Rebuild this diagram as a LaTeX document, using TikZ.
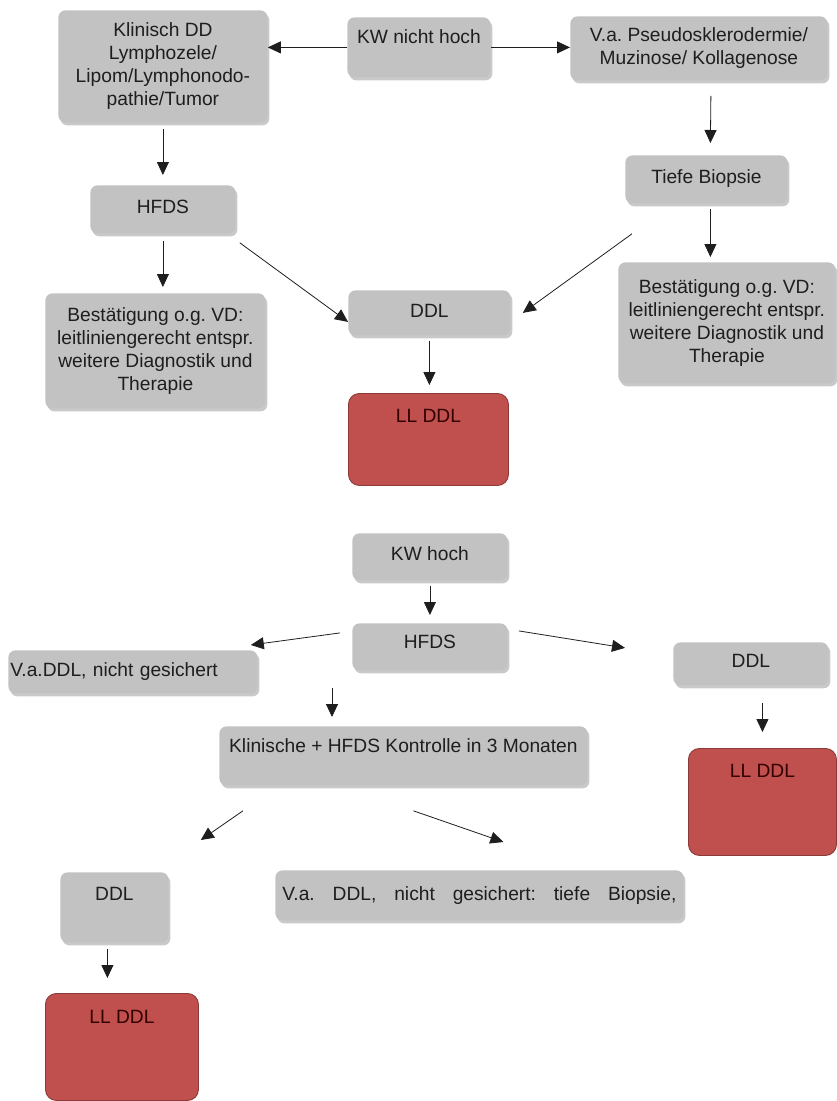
\documentclass[tikz,border=0pt]{standalone}
\usepackage{fontspec}
\setmainfont{Liberation Sans}
\usetikzlibrary{arrows.meta,calc,shadows}
\definecolor{boxgray}{HTML}{C2C2C2}
\definecolor{llred}{HTML}{C0504D}
\definecolor{llline}{HTML}{8C3A37}
\definecolor{ink}{HTML}{1E1E1E}

\begin{document}
\begin{tikzpicture}[x=1pt, y=-1pt,
  font=\fontsize{19.2}{23}\selectfont\frenchspacing, >={Triangle[length=13pt,width=12pt]}, line width=0.8pt, ink,
  box/.style={fill=boxgray, rounded corners=7pt, inner sep=0pt, anchor=north west,
              drop shadow={shadow xshift=2pt, shadow yshift=-3pt, opacity=0.3, fill=black!70}},
  multi/.style={box, align=center},
  ll/.style={draw=llline, fill=llred, line width=0.9pt, rounded corners=11pt, inner sep=0pt,
             anchor=north west, text=black!80!red},
  arr/.style={->, draw=ink}]
\useasboundingbox (0,0) rectangle (837,1101);
% ---------- upper chart: KW nicht hoch
\node[box, minimum width=143pt, text height=26pt, text depth=34pt] (kw1) at (347,17) {KW nicht hoch};
\node[multi, minimum width=209pt, minimum height=112pt] (klin1) at (58,10) {Klinisch DD\\Lymphozele/\\Lipom/Lymphonodo-\\pathie/Tumor};
\node[multi, minimum width=257pt, minimum height=64pt] (pseudo) at (570,16) {V.a. Pseudosklerodermie/\\Muzinose/ Kollagenose};
\node[box, minimum width=162pt, text height=28pt, text depth=20pt] (tiefe) at (625,155) {Tiefe Biopsie};
\node[multi, minimum width=217pt, minimum height=121pt] (best2) at (618,262) {Bestätigung o.g. VD:\\leitliniengerecht entspr.\\weitere Diagnostik und\\Therapie};
\node[box, minimum width=145pt, text height=28pt, text depth=20pt] (hfds1) at (90,185) {HFDS};
\node[multi, minimum width=220pt, minimum height=115pt] (best1) at (45,293) {Bestätigung o.g. VD:\\leitliniengerecht entspr.\\weitere Diagnostik und\\Therapie};
\node[box, minimum width=162pt, text height=27pt, text depth=18pt] (ddl1) at (348,290) {DDL};
\node[ll, minimum width=160pt, text height=29pt, text depth=63pt] (ll1) at (348,393) {LL DDL};
% ---------- lower chart: KW hoch
\node[box, minimum width=155pt, text height=27pt, text depth=20pt] (kw2) at (352,533) {KW hoch};
\node[box, minimum width=155pt, text height=25pt, text depth=22pt] (hfds2) at (352,623) {HFDS};
\node[box, text width=245pt, inner xsep=2pt, align=left, text height=26pt, text depth=17pt] (vaddl1) at (8,650) {V.a.DDL, nicht gesichert};
\node[box, minimum width=155pt, text height=25pt, text depth=18pt] (ddl2) at (673,642) {DDL};
\node[ll, minimum width=148pt, text height=29pt, text depth=78pt] (ll2) at (688,748) {LL DDL};
\node[box, minimum width=368pt, text height=26pt, text depth=33pt] (ctrl) at (219,726) {Klinische + HFDS Kontrolle in 3 Monaten};
\node[box, minimum width=108pt, text height=28pt, text depth=42pt] (ddl3) at (60,872) {DDL};
\node[box, minimum width=408pt, text height=30pt, text depth=20pt] (vaddl2) at (275,870) {\makebox[394pt][s]{V.a. DDL, nicht gesichert: tiefe Biopsie,}};
\node[ll, minimum width=153pt, text height=30pt, text depth=77pt] (ll3) at (45,993) {LL DDL};
% ---------- arrows, upper chart
\draw[arr] (kw1.west) -- (klin1.east |- kw1.west);
\draw[arr] (kw1.east) -- (pseudo.west |- kw1.east);
\draw[arr] ($(pseudo.south)+(12,15)$) -- ($(tiefe.north)+(4,-12)$);
\draw[arr] ($(tiefe.south)+(4,5)$) -- ($(tiefe.south |- best2.north)+(4,-5)$);
\draw[arr] ($(tiefe.south west)+(7,30)$) -- ($(ddl1.east)+(12,0)$);
\draw[arr, shorten <=6pt, shorten >=10pt] (klin1.south) -- (hfds1.north);
\draw[arr, shorten <=7pt, shorten >=6pt] (hfds1.south) -- (hfds1.south |- best1.north);
\draw[arr] ($(hfds1.south east)+(4,9)$) -- ($(ddl1.west)+(0,9)$);
\draw[arr, shorten <=5pt, shorten >=8pt] (ddl1.south) -- (ddl1.south |- ll1.north);
% ---------- arrows, lower chart
\draw[arr, shorten <=5pt, shorten >=8pt] (kw2.south) -- (hfds2.north);
\draw[arr] ($(hfds2.west)+(-12,-14)$) -- ($(vaddl1.north east)+(-7,-5)$);
\draw[arr] ($(hfds2.east)+(11,-16)$) -- ($(ddl2.west)+(-48,-16)$);
\draw[arr, shorten <=17pt, shorten >=16pt] (ll2.north |- ddl2.south) -- (ll2.north);
\draw[arr] ($(hfds2.south west)+(-20,17)$) -- ($(hfds2.south west |- ctrl.north)+(-20,-9)$);
\draw[arr] ($(ctrl.south west)+(24,25)$) -- ($(ddl3.north east)+(32,-32)$);
\draw[arr] ($(ctrl.south)+(10,25)$) -- ($(vaddl2.north)+(24,-28)$);
\draw[arr] ($(ddl3.south)+(-7,6)$) -- ($(ddl3.south |- ll3.north)+(-7,-15)$);
\end{tikzpicture}
\end{document}
